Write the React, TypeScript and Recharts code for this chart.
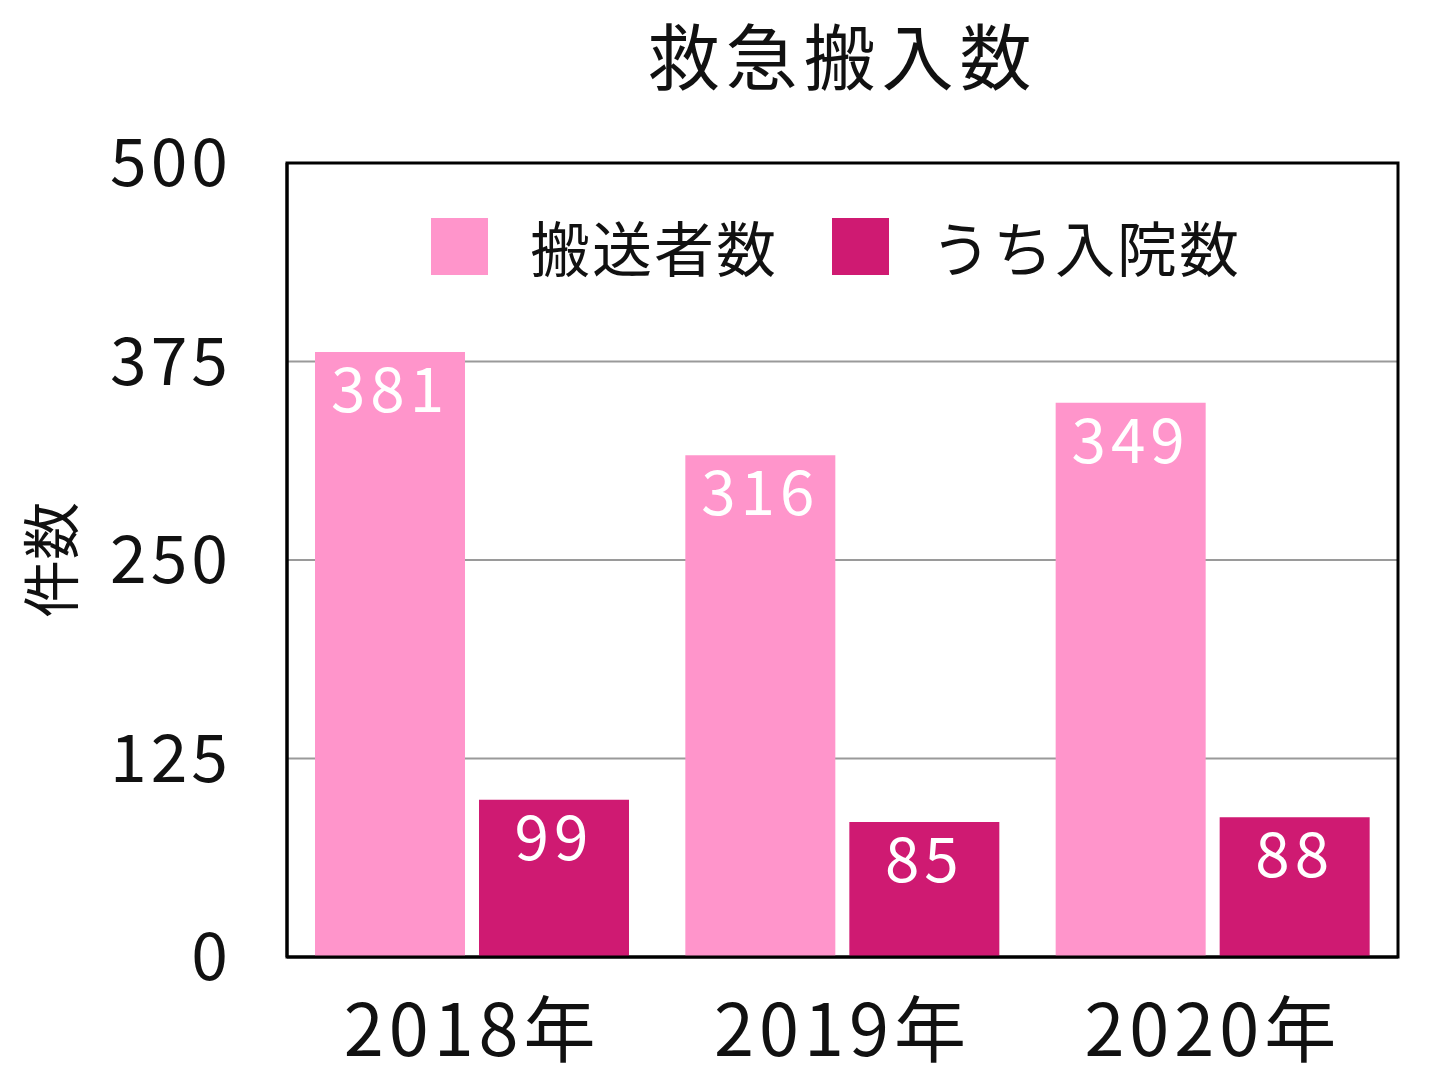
import React from "react";
import { BarChart, Bar, XAxis, YAxis, CartesianGrid, Legend, LabelList, ReferenceArea } from "recharts";

const years = ["2018年", "2019年", "2020年"];
const transported = [381, 316, 349];
const admitted = [99, 85, 88];
const yTicks = [0, 125, 250, 375, 500];

const COLORS = { transported: "#FF95CB", admitted: "#CF1A72" };
const FONT = '"Noto Sans CJK JP", "Noto Sans", sans-serif';

const data = years.map((year, i) => ({
    year,
    transported: transported[i],
    admitted: admitted[i],
}));

const legendItems = [
    { name: "搬送者数", color: COLORS.transported },
    { name: "うち入院数", color: COLORS.admitted },
];

const renderLegend = () => (
    <div style={{ display: "flex", alignItems: "center", fontFamily: FONT }}>
        {legendItems.map((item, i) => (
            <div key={item.name} style={{ display: "flex", alignItems: "center", marginRight: i === 0 ? 54 : 0 }}>
                <div style={{ width: 57, height: 57, background: item.color, marginRight: 42 }} />
                <span style={{ fontSize: 60, letterSpacing: 2, color: "#111", lineHeight: "60px" }}>{item.name}</span>
            </div>
        ))}
    </div>
);

const App: React.FC = () => {
    return (
        <div style={{ position: "absolute", left: 0, top: 0, width: 1440, height: 1077, background: "#fff", fontFamily: FONT }}>
            <BarChart
                width={1440}
                height={1077}
                data={data}
                margin={{ top: 163, right: 42, bottom: 90, left: 87 }}
                barCategoryGap={28}
                barGap={14}
            >
                <CartesianGrid vertical={false} stroke="#9a9a9a" strokeWidth={2} />
                <XAxis
                    dataKey="year"
                    height={30}
                    tickLine={false}
                    axisLine={{ stroke: "#000", strokeWidth: 3 }}
                    tickMargin={42}
                    tick={{ fontSize: 72, fill: "#111", fontFamily: FONT, letterSpacing: 5 }}
                />
                <YAxis
                    width={200}
                    domain={[0, 500]}
                    ticks={yTicks}
                    tickLine={false}
                    tickSize={0}
                    tickMargin={55}
                    axisLine={{ stroke: "#000", strokeWidth: 3 }}
                    tick={{ fontSize: 66, fill: "#111", fontFamily: FONT, letterSpacing: 4 }}
                    label={{
                        content: () => (
                            <text
                                x={48}
                                y={560}
                                transform="rotate(-90 48 560)"
                                textAnchor="middle"
                                dominantBaseline="central"
                                fontSize={58}
                                fill="#111"
                                fontFamily={FONT}
                            >
                                件数
                            </text>
                        ),
                    }}
                />
                <Legend
                    layout="horizontal"
                    verticalAlign="middle"
                    align="center"
                    wrapperStyle={{ top: 216, left: 431, width: 900 }}
                    content={renderLegend}
                />
                <Bar dataKey="transported" name="搬送者数" fill={COLORS.transported} isAnimationActive={false}>
                    <LabelList dataKey="transported" position="insideTop" offset={16} fill="#fff" fontSize={62} fontFamily={FONT} letterSpacing={5} />
                </Bar>
                <Bar dataKey="admitted" name="うち入院数" fill={COLORS.admitted} isAnimationActive={false}>
                    <LabelList dataKey="admitted" position="insideTop" offset={16} fill="#fff" fontSize={62} fontFamily={FONT} letterSpacing={5} />
                </Bar>
                <ReferenceArea y1={0} y2={500} fill="none" stroke="#000" strokeWidth={3} ifOverflow="visible" />
            </BarChart>
            <div
                style={{
                    position: "absolute",
                    left: 287,
                    width: 1111,
                    top: 0,
                    textAlign: "center",
                    fontSize: 72,
                    letterSpacing: 6,
                    color: "#111",
                    lineHeight: "normal",
                    zIndex: 2,
                }}
            >
                救急搬入数
            </div>
        </div>
    );
};

export default App;
